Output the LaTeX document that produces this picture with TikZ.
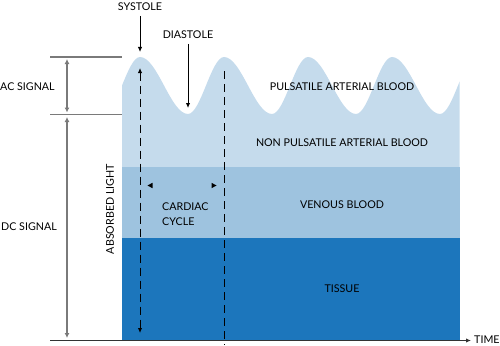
\documentclass[tikz,border=0pt]{standalone}
\usepackage{fontspec}
\setmainfont{Lato}
\usetikzlibrary{arrows.meta}
\definecolor{lightb}{HTML}{C5DBEC}
\definecolor{venb}{HTML}{9EC3DF}
\definecolor{tisb}{HTML}{1C76BC}
\definecolor{grayl}{HTML}{7A7A7A}
\definecolor{axisc}{HTML}{333333}
\begin{document}
\begin{tikzpicture}[x=1pt,y=-1pt,
  lbl/.style={font=\fontsize{10.7}{15}\selectfont, inner sep=0pt, text=black},
  gline/.style={draw=grayl, line width=1.6pt},
  garrow/.style={draw=grayl, line width=1.6pt, {Latex[length=5pt,width=5pt]}-{Latex[length=5pt,width=5pt]}},
  karrow/.style={draw=black, line width=1pt, -{Latex[length=5pt,width=4.5pt]}},
  dline/.style={draw=black, line width=1pt, dash pattern=on 8pt off 5pt}]
\useasboundingbox (0,0) rectangle (500,345);

% layers
\begin{scope}
\clip (122,0) rectangle (459.5,340);
\fill[lightb] (104,114)
  .. controls (116.75,114) and (127.25,57) .. (140,57)
  .. controls (157.5,57) and (170.5,114) .. (188,114)
  .. controls (200.75,114) and (211.25,57) .. (224,57)
  .. controls (241.5,57) and (254.5,114) .. (272,114)
  .. controls (284.75,114) and (295.25,57) .. (308,57)
  .. controls (325.5,57) and (338.5,114) .. (356,114)
  .. controls (368.75,114) and (379.25,57) .. (392,57)
  .. controls (409.5,57) and (422.5,114) .. (440,114)
  .. controls (452.75,114) and (463.25,57) .. (476,57)
  -- (476,340) -- (104,340) -- cycle;
\end{scope}
\fill[venb] (122,167) rectangle (459.5,238);
\fill[tisb] (122,238) rectangle (459.5,340);

% labels in layers
\node[lbl] (pab) at (342,87) {PULSATILE ARTERIAL BLOOD};
\node[lbl] (npab) at (342,143) {NON PULSATILE ARTERIAL BLOOD};
\node[lbl] (vb) at (342,205) {VENOUS BLOOD};
\node[lbl] (tis) at (342,289) {TISSUE};
\node[lbl, align=left, anchor=west] (cc) at (162,214.5) {CARDIAC\\CYCLE};
\node[lbl, rotate=90] (abs) at (110,209) {ABSORBED LIGHT};

% left signal scale
\coordinate (acTopL) at (50,57);
\coordinate (acTopR) at (122,57);
\coordinate (acBotL) at (50,114.5);
\coordinate (acBotR) at (122,114.5);
\draw[gline] (acTopL) -- (acTopR);
\draw[gline] (acBotL) -- (acBotR);
\coordinate (ac1) at (67,59);
\coordinate (ac2) at (67,112.5);
\coordinate (dc1) at (67,117);
\coordinate (dc2) at (67,338);
\draw[garrow] (ac1) -- (ac2);
\draw[garrow] (dc1) -- (dc2);
\node[lbl, anchor=west] (acs) at (0,87) {AC SIGNAL};
\node[lbl, anchor=west] (dcs) at (1,227) {DC SIGNAL};

% axis
\coordinate (axL) at (50,340.5);
\coordinate (axR) at (471,340.5);
\draw[draw=axisc, line width=1.5pt, -{Latex[length=5pt,width=4.5pt]}] (axL) -- (axR);
\node[lbl, anchor=west] (time) at (474,340) {TIME};

% systole / diastole
\node[lbl] (sys) at (140,7) {SYSTOLE};
\coordinate (sysStart) at (140,16);
\coordinate (sysEnd) at (140,52);
\draw[karrow] (sysStart) -- (sysEnd);
\node[lbl] (dia) at (188,35) {DIASTOLE};
\coordinate (diaStart) at (188,44);
\coordinate (diaEnd) at (188,108);
\draw[karrow] (diaStart) -- (diaEnd);

% dashed cycle lines
\coordinate (d1a) at (140,68);
\coordinate (d1b) at (140,333);
\draw[dline, {Latex[length=5pt,width=4.5pt]}-{Latex[length=5pt,width=4.5pt]}] (d1a) -- (d1b);
\coordinate (d2a) at (224,71);
\coordinate (d2b) at (224,345);
\draw[dline] (d2a) -- (d2b);

% cardiac cycle tips
\fill[black] (147.5,185.5) -- (152.5,182.8) -- (152.5,188.2) -- cycle;
\fill[black] (216.5,185.5) -- (211.5,182.8) -- (211.5,188.2) -- cycle;
\end{tikzpicture}
\end{document}
